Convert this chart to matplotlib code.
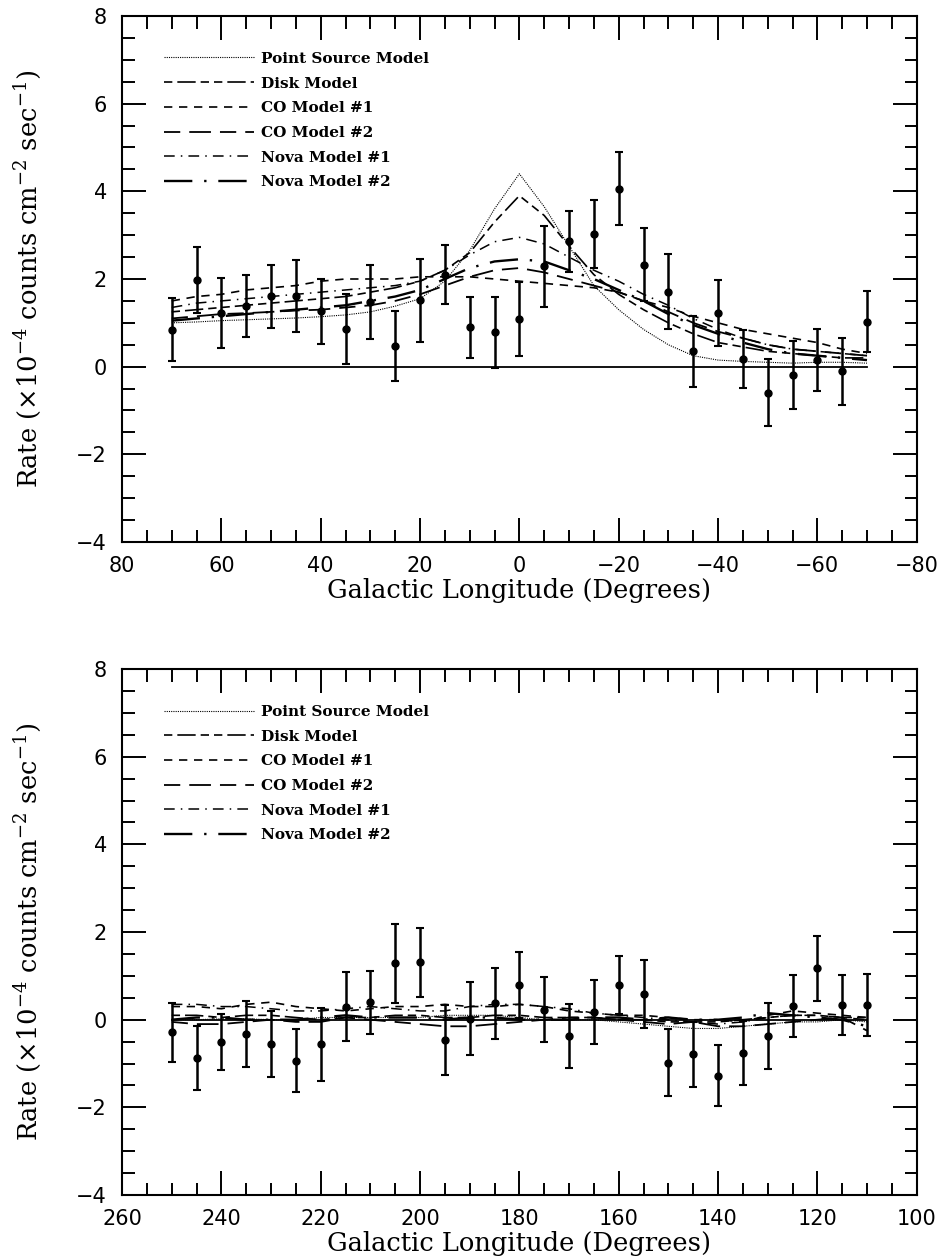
"""Gamma-ray line rate vs galactic longitude, data with model curves (two panels)."""

import numpy as np
import matplotlib
matplotlib.use("Agg")
import matplotlib.pyplot as plt
from matplotlib.ticker import MultipleLocator

# ---- top panel: inner galaxy ----
lon_top = [70, 65, 60, 55, 50, 45, 40, 35, 30, 25, 20, 15, 10, 5, 0,
           -5, -10, -15, -20, -25, -30, -35, -40, -45, -50, -55, -60, -65, -70]
rate_top = [0.84, 1.98, 1.23, 1.38, 1.61, 1.61, 1.26, 0.86, 1.47, 0.48, 1.51, 2.10, 0.90, 0.78, 1.09,
            2.29, 2.86, 3.03, 4.06, 2.33, 1.71, 0.35, 1.22, 0.17, -0.59, -0.19, 0.16, -0.11, 1.03]
err_top = [0.72, 0.75, 0.80, 0.70, 0.72, 0.82, 0.75, 0.80, 0.85, 0.80, 0.95, 0.68, 0.70, 0.82, 0.85,
           0.93, 0.69, 0.77, 0.83, 0.83, 0.86, 0.81, 0.76, 0.66, 0.77, 0.77, 0.71, 0.77, 0.69]

point_top = [1.00, 1.02, 1.05, 1.07, 1.09, 1.11, 1.14, 1.18, 1.25, 1.38, 1.55, 1.95, 2.65, 3.60, 4.40,
             3.65, 2.75, 1.85, 1.30, 0.85, 0.50, 0.25, 0.15, 0.12, 0.10, 0.08, 0.10, 0.10, 0.08]
disk_top = [1.25, 1.30, 1.35, 1.40, 1.45, 1.50, 1.55, 1.60, 1.70, 1.80, 1.95, 2.20, 2.60, 3.30, 3.90,
            3.45, 2.75, 2.10, 1.65, 1.30, 1.00, 0.75, 0.55, 0.45, 0.35, 0.30, 0.25, 0.20, 0.20]
co1_top = [1.50, 1.60, 1.65, 1.75, 1.80, 1.85, 1.95, 2.00, 2.00, 2.00, 2.05, 2.05, 2.05, 2.00, 1.95,
           1.90, 1.85, 1.80, 1.70, 1.50, 1.35, 1.15, 1.00, 0.85, 0.75, 0.65, 0.55, 0.40, 0.30]
co2_top = [1.10, 1.15, 1.20, 1.22, 1.25, 1.28, 1.30, 1.35, 1.40, 1.50, 1.65, 1.85, 2.05, 2.20, 2.25,
           2.15, 2.00, 1.85, 1.70, 1.50, 1.25, 1.00, 0.80, 0.65, 0.50, 0.40, 0.35, 0.30, 0.25]
nova1_top = [1.35, 1.45, 1.50, 1.55, 1.60, 1.65, 1.70, 1.75, 1.80, 1.85, 1.95, 2.20, 2.55, 2.85, 2.95,
             2.80, 2.50, 2.20, 1.95, 1.65, 1.40, 1.10, 0.85, 0.65, 0.50, 0.40, 0.35, 0.30, 0.25]
nova2_top = [1.05, 1.10, 1.15, 1.20, 1.25, 1.30, 1.35, 1.40, 1.50, 1.60, 1.75, 2.00, 2.25, 2.40, 2.45,
             2.40, 2.20, 2.00, 1.75, 1.50, 1.20, 0.95, 0.75, 0.55, 0.40, 0.30, 0.25, 0.20, 0.15]

# ---- bottom panel: anticentre ----
lon_bot = [250, 245, 240, 235, 230, 225, 220, 215, 210, 205, 200, 195, 190, 185, 180,
           175, 170, 165, 160, 155, 150, 145, 140, 135, 130, 125, 120, 115, 110]
rate_bot = [-0.29, -0.88, -0.50, -0.33, -0.56, -0.94, -0.56, 0.30, 0.40, 1.29, 1.31, -0.46, 0.02, 0.37, 0.80,
            0.23, -0.37, 0.17, 0.79, 0.59, -0.98, -0.79, -1.28, -0.76, -0.37, 0.32, 1.17, 0.34, 0.34]
err_bot = [0.68, 0.73, 0.64, 0.75, 0.75, 0.72, 0.83, 0.79, 0.72, 0.90, 0.79, 0.80, 0.83, 0.81, 0.75,
           0.75, 0.73, 0.73, 0.67, 0.78, 0.77, 0.74, 0.70, 0.74, 0.75, 0.71, 0.75, 0.69, 0.71]

point_bot = [0.00, 0.00, 0.02, 0.02, 0.00, 0.00, 0.05, 0.05, 0.05, 0.05, 0.05, 0.10, 0.10, 0.10, 0.05,
             0.00, 0.00, 0.00, -0.05, -0.10, -0.15, -0.20, -0.20, -0.15, -0.10, -0.05, -0.05, 0.00, -0.05]
disk_bot = [0.10, 0.10, 0.05, 0.10, 0.10, 0.05, 0.00, 0.05, 0.05, 0.10, 0.10, 0.05, 0.05, 0.10, 0.10,
            0.05, 0.05, 0.05, 0.00, 0.00, -0.05, -0.05, -0.05, 0.00, 0.05, 0.10, 0.10, 0.05, 0.05]
co1_bot = [0.30, 0.30, 0.25, 0.35, 0.40, 0.30, 0.25, 0.20, 0.25, 0.30, 0.30, 0.35, 0.30, 0.30, 0.35,
           0.30, 0.20, 0.15, 0.10, 0.10, 0.05, 0.00, 0.00, -0.05, 0.10, 0.20, 0.15, 0.10, 0.05]
co2_bot = [-0.05, -0.10, -0.10, -0.05, 0.00, -0.05, -0.05, 0.05, 0.00, -0.05, -0.10, -0.15, -0.15, -0.10, -0.05,
           0.00, 0.05, 0.05, 0.00, -0.05, -0.10, -0.05, -0.15, -0.15, -0.10, -0.05, 0.00, 0.05, -0.25]
nova1_bot = [0.35, 0.35, 0.30, 0.30, 0.25, 0.20, 0.20, 0.25, 0.30, 0.25, 0.20, 0.20, 0.30, 0.35, 0.35,
             0.30, 0.25, 0.15, 0.10, 0.05, 0.00, -0.05, -0.10, -0.05, 0.05, 0.10, 0.10, 0.05, 0.00]
nova2_bot = [0.00, 0.05, 0.05, 0.00, 0.00, 0.00, 0.05, 0.10, 0.05, 0.05, 0.05, 0.00, 0.05, 0.05, 0.00,
             0.00, 0.00, 0.05, 0.05, 0.00, 0.05, 0.00, 0.00, 0.05, 0.15, 0.10, 0.05, 0.00, -0.15]

model_names = ["Point Source Model", "Disk Model", "CO Model #1", "CO Model #2",
               "Nova Model #1", "Nova Model #2"]
model_styles = [
    dict(ls=(0, (1, 1)), lw=0.8),
    dict(ls=(0, (5, 3, 11, 3, 5, 3)), lw=1.2),
    dict(ls=(0, (5, 4)), lw=1.2),
    dict(ls=(0, (9, 5, 12, 5)), lw=1.3),
    dict(ls=(0, (7, 4, 1, 4)), lw=1.1),
    dict(ls=(0, (12, 5, 1, 5)), lw=1.7),
]

plt.rcParams["font.family"] = "DejaVu Sans"
plt.rcParams["mathtext.fontset"] = "dejavuserif"

fig = plt.figure(figsize=(9.46, 12.59), dpi=100)
ax_top = fig.add_axes([0.129, 0.5695, 0.840, 0.4178])
ax_bot = fig.add_axes([0.129, 0.0508, 0.840, 0.4178])


def draw_panel(ax, lon, rate, err, models, xlim):
    ax.plot([lon[0], lon[-1]], [0, 0], color="black", lw=1.3)
    for name, vals, st in zip(model_names, models, model_styles):
        ax.plot(lon, vals, color="black", label=name, **st)
    ax.errorbar(lon, rate, yerr=err, fmt="o", color="black", ms=5,
                elinewidth=1.8, capsize=3, capthick=1.5)

    ax.set_xlim(*xlim)
    ax.set_ylim(-4, 8)
    ax.xaxis.set_major_locator(MultipleLocator(20))
    ax.xaxis.set_minor_locator(MultipleLocator(5))
    ax.yaxis.set_major_locator(MultipleLocator(2))
    ax.yaxis.set_minor_locator(MultipleLocator(0.5))
    ax.tick_params(which="both", direction="in", top=True, right=True,
                   width=1.4, labelsize=15)
    ax.tick_params(axis="x", which="both", pad=10)
    ax.tick_params(axis="y", which="both", pad=11)
    ax.tick_params(which="major", length=17)
    ax.tick_params(which="minor", length=9)
    for sp in ax.spines.values():
        sp.set_linewidth(1.5)

    ax.set_xlabel("Galactic Longitude (Degrees)", family="DejaVu Serif", fontsize=18.5)
    ax.xaxis.set_label_coords(0.5, -0.068)
    ax.set_ylabel(r"Rate ($\times$10$^{-4}$ counts cm$^{-2}$ sec$^{-1}$)",
                  family="DejaVu Serif", fontsize=18.5)
    ax.yaxis.set_label_coords(-0.100, 0.5)

    ax.legend(loc="upper left", bbox_to_anchor=(0.035, 0.958), frameon=False,
              handlelength=5.9, handletextpad=0.45, labelspacing=0.7,
              prop=dict(family="DejaVu Serif", weight="bold", size=11))


draw_panel(ax_top, lon_top, rate_top, err_top,
           [point_top, disk_top, co1_top, co2_top, nova1_top, nova2_top], (80, -80))
draw_panel(ax_bot, lon_bot, rate_bot, err_bot,
           [point_bot, disk_bot, co1_bot, co2_bot, nova1_bot, nova2_bot], (260, 100))

fig.savefig("out.png", dpi=100)
